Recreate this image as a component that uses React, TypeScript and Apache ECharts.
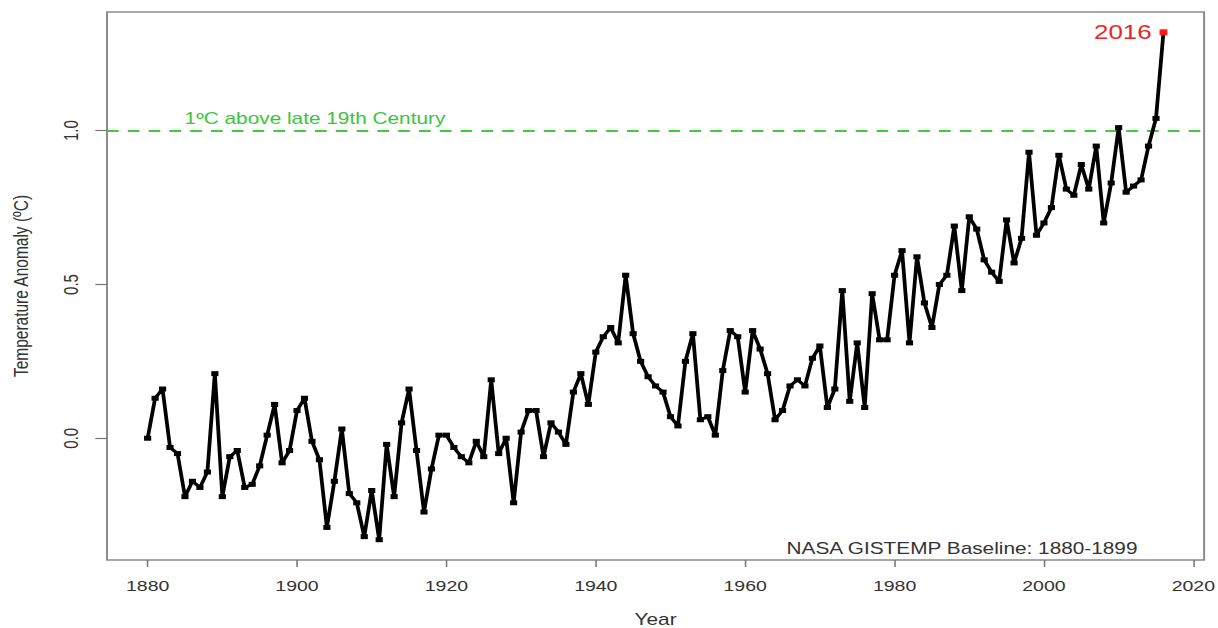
import React, { useEffect, useRef } from "react";
import * as echarts from "echarts";

const startYear = 1880;
const anomalies1880to1919 = [
  0.0, 0.13, 0.16, -0.03, -0.05, -0.19, -0.14, -0.16, -0.11, 0.21,
  -0.19, -0.06, -0.04, -0.16, -0.15, -0.09, 0.01, 0.11, -0.08, -0.04,
  0.09, 0.13, -0.01, -0.07, -0.29, -0.14, 0.03, -0.18, -0.21, -0.32,
  -0.17, -0.33, -0.02, -0.19, 0.05, 0.16, -0.04, -0.24, -0.1, 0.01,
];
const anomalies1920to1959 = [
  0.01, -0.03, -0.06, -0.08, -0.01, -0.06, 0.19, -0.05, 0.0, -0.21,
  0.02, 0.09, 0.09, -0.06, 0.05, 0.02, -0.02, 0.15, 0.21, 0.11,
  0.28, 0.33, 0.36, 0.31, 0.53, 0.34, 0.25, 0.2, 0.17, 0.15,
  0.07, 0.04, 0.25, 0.34, 0.06, 0.07, 0.01, 0.22, 0.35, 0.33,
];
const anomalies1960to1999 = [
  0.15, 0.35, 0.29, 0.21, 0.06, 0.09, 0.17, 0.19, 0.17, 0.26,
  0.3, 0.1, 0.16, 0.48, 0.12, 0.31, 0.1, 0.47, 0.32, 0.32,
  0.53, 0.61, 0.31, 0.59, 0.44, 0.36, 0.5, 0.53, 0.69, 0.48,
  0.72, 0.68, 0.58, 0.54, 0.51, 0.71, 0.57, 0.65, 0.93, 0.66,
];
const anomalies2000to2016 = [
  0.7, 0.75, 0.92, 0.81, 0.79, 0.89, 0.81, 0.95, 0.7, 0.83,
  1.01, 0.8, 0.82, 0.84, 0.95, 1.04, 1.32,
];
const xTickYears = [1880, 1900, 1920, 1940, 1960, 1980, 2000, 2020];
const yTickValues = [0, 0.5, 1.0];
const thresholdValue = 1.0;
const thresholdLabel = "1ºC above late 19th Century";
const baselineNote = "NASA GISTEMP Baseline: 1880-1899";
const highlightLabel = "2016";

const FONT = "'Liberation Sans', Arial, Helvetica, sans-serif";
const STRETCH = 1.3;
const OUT_W = 1218;
const OUT_H = 628;
const IN_W = OUT_W / STRETCH;

export default function App() {
  const ref = useRef<HTMLDivElement>(null);

  useEffect(() => {
    if (!ref.current) return;
    const chart = echarts.init(ref.current, undefined, { renderer: "svg" });
    const values = [
      ...anomalies1880to1919,
      ...anomalies1920to1959,
      ...anomalies1960to1999,
      ...anomalies2000to2016,
    ];
    const last = values.length - 1;
    const seriesData: any[] = values.map((v, i) => {
      const pt: any = { value: [startYear + i, v] };
      if (i === last) {
        pt.itemStyle = { color: "#ff1a1a" };
        pt.symbolSize = 6;
        pt.label = {
          show: true,
          position: "left",
          distance: 6,
          formatter: highlightLabel,
          color: "#e8262b",
          fontSize: 20,
          fontFamily: FONT,
        };
      }
      return pt;
    });

    chart.setOption({
      animation: false,
      backgroundColor: "#ffffff",
      grid: {
        left: 107 / STRETCH,
        right: (OUT_W - 1204) / STRETCH,
        top: 12,
        bottom: OUT_H - 560,
        outerBoundsMode: "none",
        containLabel: false,
        show: true,
        borderColor: "#8a8a8a",
        borderWidth: 1.5,
        backgroundColor: "transparent",
      },
      xAxis: {
        type: "value",
        min: 1874.56,
        max: 2021.44,
        name: "Year",
        nameLocation: "middle",
        nameGap: 51,
        nameTextStyle: { fontSize: 16, color: "#333", fontFamily: FONT },
        axisLine: { show: false, onZero: false },
        splitLine: { show: false },
        axisTick: {
          show: true,
          length: 7,
          lineStyle: { color: "#777", width: 1.2 },
          customValues: xTickYears,
        },
        axisLabel: {
          fontSize: 15,
          color: "#333",
          fontFamily: FONT,
          margin: 18,
          customValues: xTickYears,
          formatter: (v: number) => String(v),
        },
      },
      yAxis: {
        type: "value",
        min: -0.396,
        max: 1.386,
        name: "Temperature Anomaly (ºC)",
        nameLocation: "middle",
        nameGap: 58,
        nameTextStyle: { fontSize: 15.5, color: "#333", fontFamily: FONT },
        axisLine: { show: false, onZero: false },
        splitLine: { show: false },
        axisTick: {
          show: true,
          length: 9,
          lineStyle: { color: "#777", width: 1.2 },
          customValues: yTickValues,
        },
        axisLabel: {
          show: true,
          fontSize: 15,
          color: "#333",
          fontFamily: FONT,
          rotate: 90,
          margin: 20,
          customValues: yTickValues,
          formatter: (v: number) => v.toFixed(1),
        },
      },
      series: [
        {
          type: "line",
          data: seriesData,
          symbol: "rect",
          symbolSize: [5.5, 5],
          showAllSymbol: true,
          lineStyle: { color: "#000", width: 2.9 },
          itemStyle: { color: "#000" },
          z: 3,
          markLine: {
            silent: true,
            symbol: "none",
            label: { show: false },
            lineStyle: { color: "#3ccc3c", type: [9, 7], width: 2 },
            data: [{ yAxis: thresholdValue }],
            z: 2,
          },
        },
      ],
      graphic: [
        {
          type: "text",
          x: 142,
          y: 118,
          style: {
            text: thresholdLabel,
            fill: "#3cc43c",
            fontSize: 16,
            fontFamily: FONT,
            align: "left",
            verticalAlign: "middle",
          },
        },
        {
          type: "text",
          x: 875,
          y: 548,
          style: {
            text: baselineNote,
            fill: "#333",
            fontSize: 16,
            fontFamily: FONT,
            align: "right",
            verticalAlign: "middle",
          },
        },
      ],
    });
    return () => chart.dispose();
  }, []);

  return (
    <div
      ref={ref}
      style={{
        position: "absolute",
        left: 0,
        top: 0,
        width: IN_W + "px",
        height: OUT_H + "px",
        transform: `scaleX(${STRETCH})`,
        transformOrigin: "0 0",
      }}
    />
  );
}
